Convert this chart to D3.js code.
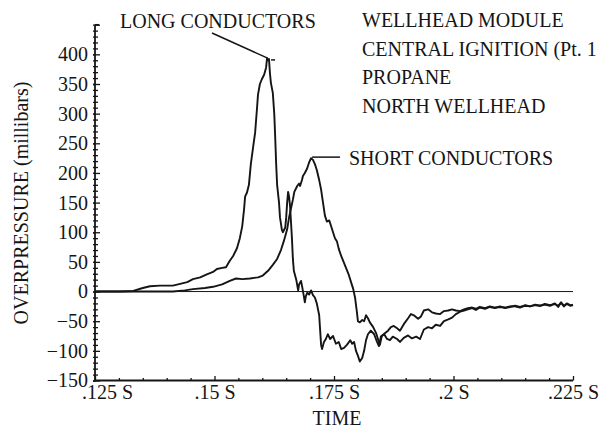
<!DOCTYPE html>
<html><head><meta charset="utf-8">
<script src="https://cdn.jsdelivr.net/npm/d3@7"></script>
<style>
html,body{margin:0;padding:0;background:#fff;}
svg{display:block;font-family:"Liberation Serif","Times New Roman",serif;}
</style></head>
<body><svg id="c" width="600" height="430"></svg>
<script>
// ---- data (time in milliseconds, overpressure in millibars) ----
const longTime = [125.0,130.2,133.0,135.0,136.5,138.6,141.3,142.8,144.3,145.5,147.0,148.4,149.7,150.5,151.6,152.4,153.2,153.9,154.7,155.3,155.8,156.2,156.4,156.8,157.2,157.6,158.1,158.5,158.9,159.1,159.5,159.9,160.4,160.8,161.0,161.2,161.4,161.6,161.8,162.2,162.5,162.7,162.9,163.1,163.5,163.7,164.1,164.3,164.8,165.0,165.2,165.4,165.6,165.8,166.2,166.4,166.6,167.1,167.5,167.7,168.1,168.3,168.7,168.9,169.1,169.4,169.8,170.2,170.6,171.0,171.4,171.9,172.1,172.3,172.5,172.9,173.3,173.7,174.2,174.8,175.4,176.0,176.5,177.1,177.7,178.4,178.8,179.2,179.6,180.0,180.4,180.9,181.3,181.7,182.1,182.7,183.4,184.0,184.4,184.8,185.5,186.1,186.7,187.3,188.2,188.8,189.6,190.5,191.3,192.2,193.0,193.8,194.7,195.5,196.3,197.2,198.0,198.9,199.7,200.5,201.4,202.2,203.0,203.9,204.7,205.5,206.6,207.6,208.7,209.7,210.8,211.8,212.9,213.9,215.0,216.0,217.1,218.1,219.1,220.2,221.2,221.9,222.5,223.1,223.7,224.4,225.0];
const longValue = [0,0,1,6,9,10,10,13,16,21,24,29,33,38,40,41,52,60,73,90,110,140,160,167,180,215,245,268,310,332,350,358,366,378,394,390,392,368,352,335,300,260,215,180,150,125,104,100,108,125,150,168,160,145,90,55,35,20,2,12,18,10,-8,-18,-8,-2,-5,2,-6,-10,-20,-40,-65,-90,-97,-85,-80,-72,-80,-75,-88,-85,-97,-95,-90,-82,-88,-85,-100,-108,-118,-112,-100,-82,-72,-66,-72,-85,-92,-76,-72,-80,-82,-76,-80,-85,-78,-74,-79,-76,-80,-64,-60,-62,-56,-58,-50,-47,-44,-38,-34,-32,-30,-28,-31,-27,-29,-26,-28,-25,-28,-26,-24,-26,-24,-25,-23,-24,-22,-24,-20,-26,-18,-25,-21,-24,-22];
const shortTime = [125.0,136.5,141.3,143.8,145.5,148.0,149.7,151.6,153.2,154.5,155.8,157.4,159.1,160.1,161.2,162.2,163.1,163.9,164.5,165.2,165.6,166.0,166.4,166.7,167.3,167.7,167.9,168.3,168.5,168.9,169.4,169.8,170.2,170.6,171.0,171.4,171.9,172.3,172.7,173.1,173.5,174.0,174.4,174.8,175.2,175.6,176.0,176.5,176.9,177.3,177.7,178.1,178.6,179.0,179.4,179.8,180.0,180.4,180.9,181.3,181.7,182.1,182.5,183.2,183.8,184.2,184.6,185.0,185.7,186.3,186.9,187.5,188.2,188.8,189.6,190.5,191.1,191.7,192.6,193.2,193.8,194.7,195.5,196.3,197.2,198.0,198.9,199.7,200.5,201.4,202.2,203.0,203.9,204.7,205.5,206.6,207.6,208.7,209.7,210.8,211.8,212.9,213.9,215.0,216.0,217.1,218.1,219.1,220.2,221.2,221.9,222.5,223.1,223.7,224.4,225.0];
const shortValue = [0,0,0,2,4,6,8,12,18,22,21,22,24,27,35,45,55,70,85,105,125,140,155,168,178,182,178,188,195,200,208,218,225,222,215,205,188,172,150,128,118,120,110,100,90,85,72,60,52,44,36,28,15,5,-10,-35,-50,-52,-48,-50,-40,-45,-52,-60,-70,-80,-90,-75,-70,-66,-60,-58,-62,-66,-55,-45,-38,-40,-46,-42,-32,-30,-35,-37,-38,-33,-32,-30,-32,-33,-30,-28,-27,-29,-26,-28,-25,-27,-26,-27,-25,-25,-27,-23,-25,-22,-24,-21,-23,-21,-24,-19,-24,-20,-23,-23];
const xTickValues = [125,150,175,200,225];
const xTickLabels = [".125 S",".15 S",".175 S",".2 S",".225 S"];
const yTickValues = [-150,-100,-50,0,50,100,150,200,250,300,350,400];
const infoLines = ["WELLHEAD MODULE","CENTRAL IGNITION (Pt. 1","PROPANE","NORTH WELLHEAD"];
const seriesNames = ["LONG CONDUCTORS","SHORT CONDUCTORS"];
const xTitle = "TIME";
const yTitle = "OVERPRESSURE (millibars)";

// ---- chart ----
const svg = d3.select("#c");
const ink = "#151515";
const x = d3.scaleLinear().domain([125,225]).range([95,573]);
const y = d3.scaleLinear().domain([-150,450]).range([380.5,24.7]);

// zero line
svg.append("line").attr("x1",x(125)).attr("x2",x(225)).attr("y1",y(0)).attr("y2",y(0))
  .attr("stroke",ink).attr("stroke-width",1);

// y axis minor/major ticks (both sides)
const yMinor = d3.range(-150,451,10);
const gyl = svg.append("g").attr("transform",`translate(${x(125)},0)`)
  .call(d3.axisLeft(y).tickValues(yMinor).tickSize(2).tickSizeOuter(0).tickFormat(""));
const gyr = svg.append("g").attr("transform",`translate(${x(125)},0)`)
  .call(d3.axisRight(y).tickValues(yMinor).tickSize(3).tickSizeOuter(0).tickFormat(""));
gyr.selectAll(".tick line").filter(d=>d%50===0).attr("x2",5);
[gyl,gyr].forEach(g=>{g.select(".domain").remove();g.selectAll("line").attr("stroke",ink).attr("stroke-width",1.3);});

// y labels
const gyLab = svg.append("g").attr("transform",`translate(${x(125)},0)`)
  .call(d3.axisLeft(y).tickValues(yTickValues).tickSize(2).tickPadding(5).tickSizeOuter(0));
gyLab.select(".domain").remove();
gyLab.selectAll("line").attr("stroke",ink).attr("stroke-width",1.3);
gyLab.selectAll("text").attr("font-size",20).attr("font-family","Liberation Serif").attr("fill",ink);

// x ticks (inside)
const xMinor = d3.range(125,225.1,5);
const gxt = svg.append("g").attr("transform",`translate(0,${y(-150)})`)
  .call(d3.axisTop(x).tickValues(xMinor).tickSize(2.5).tickSizeOuter(0).tickFormat(""));
gxt.selectAll(".tick line").filter(d=>d%25===0).attr("y2",-4.5);
gxt.select(".domain").remove();
gxt.selectAll("line").attr("stroke",ink).attr("stroke-width",1.3);

// x labels
const gxl = svg.append("g").attr("transform",`translate(0,${y(-150)})`)
  .call(d3.axisBottom(x).tickValues(xTickValues).tickSize(0).tickPadding(4).tickSizeOuter(0)
    .tickFormat((d,i)=>xTickLabels[i]));
gxl.select(".domain").remove();
gxl.selectAll("text").attr("font-size",20).attr("font-family","Liberation Serif").attr("fill",ink)
  .attr("dx",(d,i)=>i===0?12:0);

// axis lines
svg.append("line").attr("x1",x(125)).attr("x2",x(125)).attr("y1",y(450)).attr("y2",y(-150)+0.8)
  .attr("stroke",ink).attr("stroke-width",1.8);
svg.append("line").attr("x1",x(125)).attr("x2",x(225)).attr("y1",y(-150)).attr("y2",y(-150))
  .attr("stroke",ink).attr("stroke-width",1.8);
svg.append("line").attr("x1",x(125)).attr("x2",x(125)+4).attr("y1",y(450)).attr("y2",y(450))
  .attr("stroke",ink).attr("stroke-width",1.5);

// series
const line = d3.line().x(d=>x(d[0])).y(d=>y(d[1]));
const longData = longTime.map((t,i)=>[t,longValue[i]]);
const shortData = shortTime.map((t,i)=>[t,shortValue[i]]);
[longData, shortData].forEach(dat=>{
  svg.append("path").datum(dat).attr("d",line).attr("fill","none")
    .attr("stroke",ink).attr("stroke-width",1.9).attr("stroke-linejoin","round");
});

// annotations
const longPeakI = d3.maxIndex(longValue);
const shortPeakI = d3.maxIndex(shortValue);
const lp = [x(longTime[longPeakI]), y(longValue[longPeakI])];
const sp = [x(shortTime[shortPeakI]), y(shortValue[shortPeakI])];
svg.append("line").attr("x1",212).attr("y1",33).attr("x2",lp[0]).attr("y2",lp[1])
  .attr("stroke",ink).attr("stroke-width",1.5);
svg.append("line").attr("x1",lp[0]+4).attr("x2",lp[0]+8).attr("y1",lp[1]+2).attr("y2",lp[1]+2)
  .attr("stroke",ink).attr("stroke-width",1.5);
svg.append("line").attr("x1",sp[0]+1).attr("x2",sp[0]+29).attr("y1",sp[1]-1).attr("y2",sp[1]-1)
  .attr("stroke",ink).attr("stroke-width",1.5);

const txt = (s,xx,yy)=>svg.append("text").attr("x",xx).attr("y",yy).attr("font-size",20)
  .attr("font-family","Liberation Serif").attr("fill",ink).text(s);
txt(seriesNames[0],120,28);
txt(seriesNames[1],349,165);
infoLines.forEach((s,i)=>txt(s,362,27+i*28.5));
txt(xTitle,337,425).attr("text-anchor","middle");
svg.append("text").attr("transform","translate(28,203) rotate(-90)").attr("text-anchor","middle")
  .attr("font-size",20).attr("font-family","Liberation Serif").attr("fill",ink).text(yTitle);
</script></body></html>
